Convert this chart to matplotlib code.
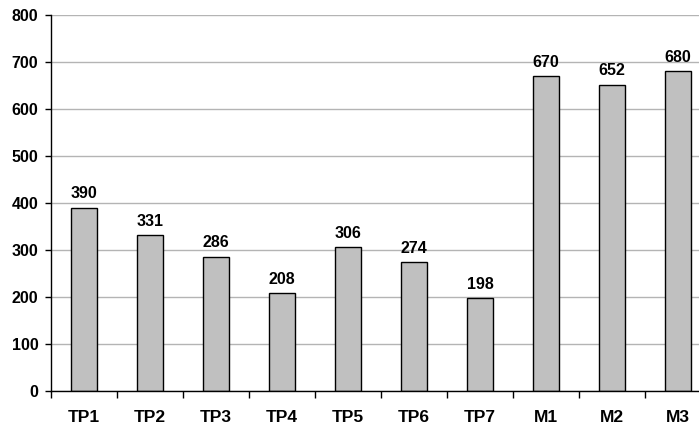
import numpy as np
import matplotlib.pyplot as plt

plt.rcParams['font.family'] = ['Liberation Sans', 'DejaVu Sans']

# data
categories = ['TP1', 'TP2', 'TP3', 'TP4', 'TP5', 'TP6', 'TP7', 'M1', 'M2', 'M3']
values = [390, 331, 286, 208, 306, 274, 198, 670, 652, 680]
yticks = [0, 100, 200, 300, 400, 500, 600, 700, 800]

fig = plt.figure(figsize=(6.99, 4.33), dpi=100)
ax = fig.add_axes([51 / 699, 42 / 433, 660 / 699, 376 / 433])

x = np.arange(len(categories))
ax.bar(x, values, width=0.4, color='#c0c0c0', edgecolor='black', linewidth=1, zorder=3)

for xi, v in zip(x, values):
    ax.annotate(str(v), (xi, v), xytext=(0, 4.5), textcoords='offset points',
                ha='center', va='bottom', fontsize=11.5, fontweight='bold')

ax.set_xlim(-0.5, len(categories) - 0.5)
ax.set_ylim(0, 800)
ax.set_yticks(yticks)
ax.set_yticklabels([str(t) for t in yticks], fontsize=11.5, fontweight='bold')
ax.tick_params(axis='y', direction='out', length=4, width=1, pad=5)

ax.set_xticks(x)
ax.set_xticklabels(categories, fontsize=12.5, fontweight='bold')
ax.tick_params(axis='x', which='major', length=0, pad=14)
ax.set_xticks(np.arange(-0.5, len(categories)), minor=True)
ax.tick_params(axis='x', which='minor', direction='out', length=5, width=1)

ax.yaxis.grid(True, color='#b4b4b4', linewidth=1, zorder=0)
ax.set_axisbelow(True)
for s in ['top', 'right']:
    ax.spines[s].set_visible(False)
ax.spines['left'].set_linewidth(1)
ax.spines['bottom'].set_linewidth(1)
ax.spines['bottom'].set_zorder(4)

fig.savefig('out.png', dpi=100)
